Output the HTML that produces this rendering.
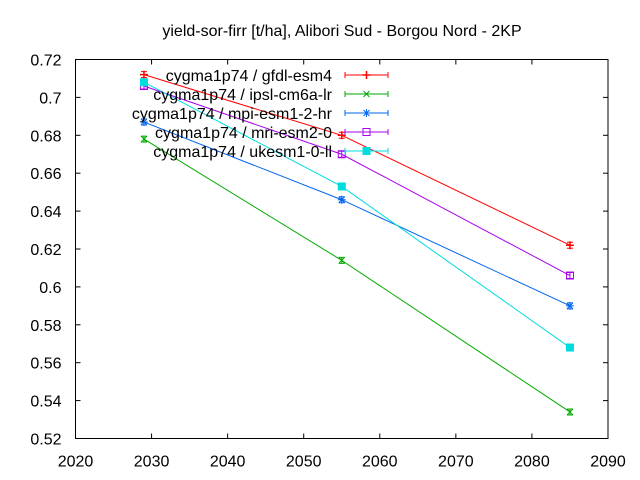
<!DOCTYPE html>
<html><head><meta charset="utf-8"><style>
body{margin:0;background:#fff}
svg{display:block;font-family:"Liberation Sans",sans-serif}
</style></head><body>
<svg id="chart" width="640" height="480" xmlns="http://www.w3.org/2000/svg">
<rect width="640" height="480" fill="#fff"/>
<text x="342" y="36" font-size="16" text-anchor="middle">yield-sor-firr [t/ha], Alibori Sud - Borgou Nord - 2KP</text>
<g id="axes"></g>
<g id="series"></g>
<g id="legend"></g>
</svg>
<script>
const years=[2029,2055,2085];
const gfdl=[0.712,0.680,0.622];
const ipsl=[0.678,0.614,0.534];
const mpi=[0.687,0.646,0.590];
const mri=[0.706,0.670,0.606];
const ukesm=[0.708,0.653,0.568];
const xTicks=[2020,2030,2040,2050,2060,2070,2080,2090];
const yTicks=[0.52,0.54,0.56,0.58,0.6,0.62,0.64,0.66,0.68,0.7,0.72];
const seriesNames=["cygma1p74 / gfdl-esm4","cygma1p74 / ipsl-cm6a-lr","cygma1p74 / mpi-esm1-2-hr","cygma1p74 / mri-esm2-0","cygma1p74 / ukesm1-0-ll"];
const NS="http://www.w3.org/2000/svg";
const L=75.5,R=608,T=59.5,B=438.5;
const sx=v=>L+(v-2020)/70*(R-L);
const sy=v=>B-(v-0.52)/0.2*(B-T);
function mk(tag,at,parent){const e=document.createElementNS(NS,tag);for(const k in at)e.setAttribute(k,at[k]);parent.appendChild(e);return e;}
const axes=document.getElementById('axes');
const frame=mk('rect',{x:L,y:T,width:R-L,height:B-T,fill:'none',stroke:'#000','stroke-width':1},axes);


xTicks.forEach(t=>{const x=sx(t);
 const l1=mk('line',{x1:x,y1:B,x2:x,y2:B-5,stroke:'#000'},axes);
 
 
 const l2=mk('line',{x1:x,y1:T,x2:x,y2:T+5,stroke:'#000'},axes);
 
 
 const tx=mk('text',{x:x,y:B+28,'font-size':16,'text-anchor':'middle'},axes);tx.textContent=t;
 
 
});
yTicks.forEach(t=>{const y=sy(t);
 const l1=mk('line',{x1:L,y1:y,x2:L+5,y2:y,stroke:'#000'},axes);
 
 
 const l2=mk('line',{x1:R,y1:y,x2:R-5,y2:y,stroke:'#000'},axes);
 
 
 const tx=mk('text',{x:L-14,y:y+6,'font-size':16,'text-anchor':'end'},axes);tx.textContent=String(t);
 
 
});
const colors=['#ff0000','#00aa00','#0066ee','#aa00ee','#00dddd'];
const data=[gfdl,ipsl,mpi,mri,ukesm];
function marker(i,x,y,g){
 const c=colors[i];
 if(i===0){mk('path',{d:`M${x-4},${y}H${x+4}M${x},${y-4}V${y+4}`,stroke:c,'stroke-width':1.5},g);}
 else if(i===1){mk('path',{d:`M${x-3},${y-3}L${x+3},${y+3}M${x-3},${y+3}L${x+3},${y-3}`,stroke:c,'stroke-width':1},g);}
 else if(i===2){mk('path',{d:`M${x-4},${y}H${x+4}M${x},${y-4}V${y+4}M${x-3},${y-3}L${x+3},${y+3}M${x-3},${y+3}L${x+3},${y-3}`,stroke:c,'stroke-width':1},g);}
 else if(i===3){mk('rect',{x:x-3.5,y:y-3.5,width:7,height:7,fill:'none',stroke:c,'stroke-width':1},g);}
 else {mk('rect',{x:x-4,y:y-4,width:8,height:8,fill:c},g);}
}
const sg=document.getElementById('series');
data.forEach((arr,i)=>{
 const g=mk('g',{},sg);
 
 
 const p=mk('polyline',{points:arr.map((v,j)=>sx(years[j])+','+sy(v)).join(' '),fill:'none',stroke:colors[i],'stroke-width':1},g);
 
 
 arr.forEach((v,j)=>{const x=sx(years[j]),y=sy(v);
  mk('path',{d:`M${x-3},${y-3}H${x+3}M${x-3},${y+3}H${x+3}M${x},${y-3}V${y+3}`,stroke:colors[i],'stroke-width':1},g);
  marker(i,x,y,g);});
});
const lg=document.getElementById('legend');
seriesNames.forEach((n,i)=>{const y=75+i*19;
 const g=mk('g',{},lg);
 
 
 const t=mk('text',{x:332,y:y+6,'font-size':16,'text-anchor':'end'},g);t.textContent=n;
 mk('line',{x1:345,y1:y,x2:388,y2:y,stroke:colors[i]},g);
 mk('path',{d:`M345,${y-3}V${y+3}M388,${y-3}V${y+3}`,stroke:colors[i]},g);
 marker(i,366.5,y,g);
});
</script>
</body></html>
